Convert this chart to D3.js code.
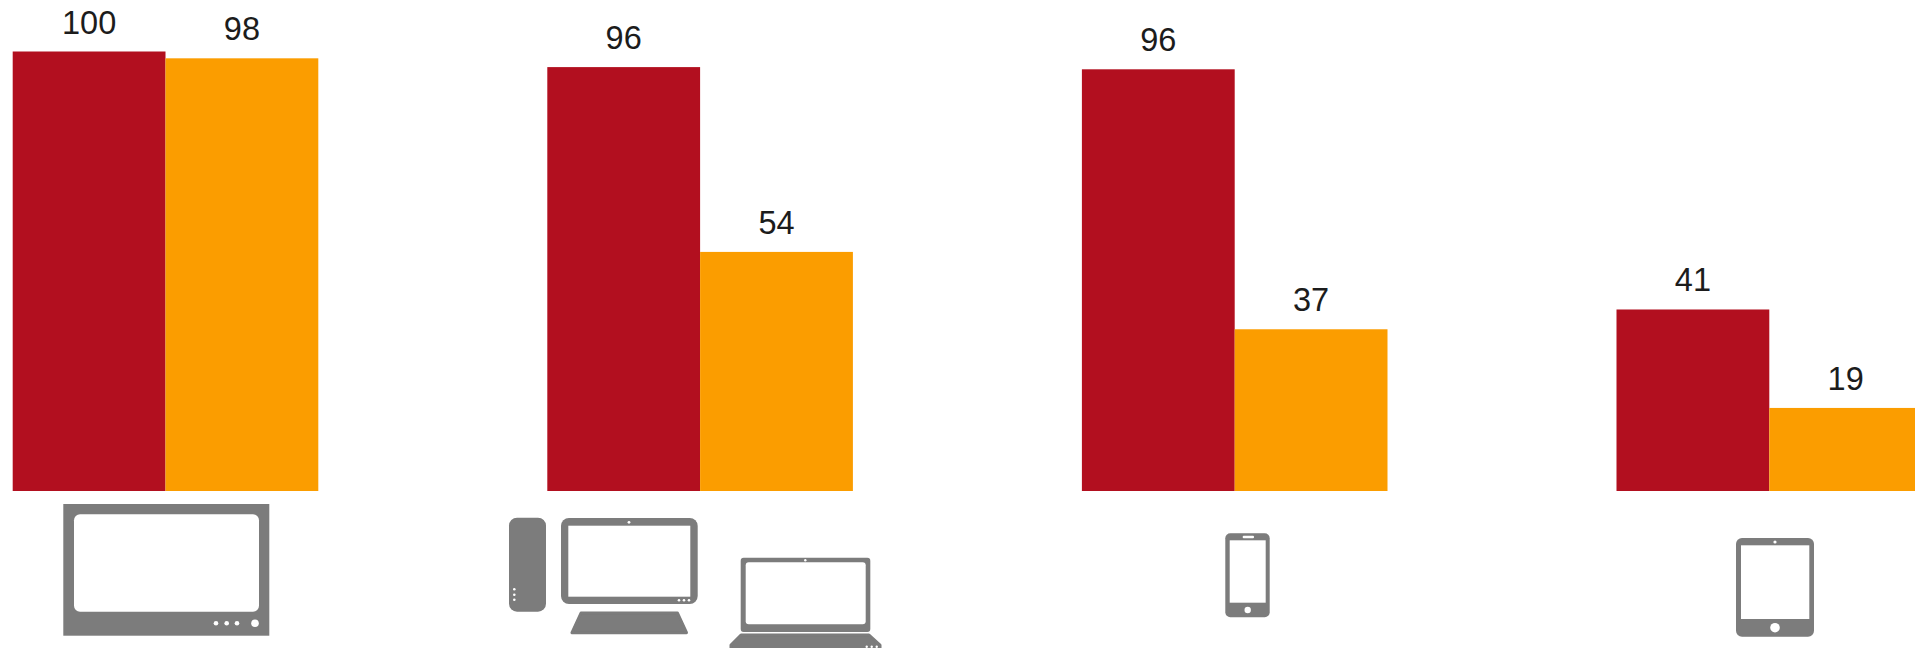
<!DOCTYPE html>
<html><head><meta charset="utf-8">
<script src="https://cdn.jsdelivr.net/npm/d3@7"></script>
<style>html,body{margin:0;padding:0;background:#fff;overflow:hidden}svg{display:block}</style>
</head><body><svg id="c" width="1915" height="648"></svg>
<script>
const categories = ["TV", "Desktop/Laptop", "Smartphone", "Tablet"];
const seriesNames = ["A", "B"];
const seriesA = [100, 96.45, 95.95, 41.3];
const seriesB = [98.45, 54.4, 36.8, 18.9];
const colors = ["#B20F1F", "#FB9D00"];

const svg = d3.select("#c");
const baseY = 491, topY = 51.5, left = 12.7, step = 534.6, groupW = 305.6;

const x0 = d3.scaleBand().domain(categories)
  .range([left, left + 3 * step + groupW]).paddingInner(1 - groupW / step);
const x1 = d3.scaleBand().domain(seriesNames).range([0, x0.bandwidth()]);
const y = d3.scaleLinear().domain([0, 100]).range([baseY, topY]);
const fmt = d3.format(".0f");

const rows = categories.map((c, i) => ({c, vals: [seriesA[i], seriesB[i]]}));
const g = svg.selectAll("g.group").data(rows).join("g").attr("class", "group")
  .attr("transform", d => `translate(${x0(d.c)},0)`);

g.selectAll("rect").data(d => d.vals.map((v, i) => ({v, s: seriesNames[i], i}))).join("rect")
  .attr("x", d => x1(d.s)).attr("width", x1.bandwidth())
  .attr("y", d => y(d.v)).attr("height", d => y(0) - y(d.v))
  .attr("fill", d => colors[d.i]);

g.selectAll("text").data(d => d.vals.map((v, i) => ({v, s: seriesNames[i]}))).join("text")
  .attr("x", d => x1(d.s) + x1.bandwidth() / 2)
  .attr("y", d => y(d.v) - 18)
  .attr("text-anchor", "middle")
  .attr("font-family", "'Liberation Sans', Arial, sans-serif")
  .attr("font-size", 32.5).attr("fill", "#1c1c1c")
  .text(d => fmt(d.v));

// Pictograms under the groups
const defs = svg.append("defs");
defs.append("filter").attr("id", "soft").append("feGaussianBlur").attr("stdDeviation", 0.6);
const icons = svg.append("g").attr("class", "icons").attr("filter", "url(#soft)");
const GREY = "#7B7B7B", WHITE = "#fff";
const box = (x1, y1, x2, y2, r, f) => icons.append("rect").attr("x", x1).attr("y", y1)
  .attr("width", x2 - x1).attr("height", y2 - y1).attr("rx", r).attr("fill", f);
const dot = (cx, cy, r) => icons.append("circle").attr("cx", cx).attr("cy", cy).attr("r", r).attr("fill", WHITE);
const poly = (d) => icons.append("path").attr("d", d).attr("fill", GREY)
  .attr("stroke", GREY).attr("stroke-width", 3).attr("stroke-linejoin", "round");

// TV
box(63.3, 504, 269.3, 635.7, 0, GREY);
box(74, 514.3, 259, 611.7, 6, WHITE);
[216, 226.7, 237].forEach(cx => dot(cx, 623.3, 2.3));
dot(255, 623.3, 3.8);

// Tower
box(509, 517.7, 546, 611.7, 8, GREY);
[589.3, 594.7, 599.7].forEach(cy => dot(514.3, cy, 1.3));
// Monitor
box(561, 518, 697.7, 604, 8, GREY);
box(568.3, 525.7, 690.3, 596.7, 0, WHITE);
dot(629, 522.3, 1.4);
[679, 684, 689].forEach(cx => dot(cx, 600.3, 1.3));
poly("M581,613 L677.5,613 L686.5,632.7 L572,632.7 Z");
// Laptop
box(740.7, 557.7, 870.3, 632, 3, GREY);
box(745.7, 562.3, 865.7, 624.3, 3, WHITE);
dot(805.3, 560.2, 1.2);
poly("M741,635 L869,635 L880,645 L880,652 L731,652 L731,645 Z");
[866.7, 871.7, 876.7].forEach(cx => dot(cx, 646.7, 1.2));

// Phone
box(1225.3, 533.3, 1269.7, 617.3, 5, GREY);
box(1229.7, 540.3, 1265.7, 602.7, 0, WHITE);
box(1242.7, 535.8, 1254, 538.2, 1, WHITE);
dot(1247.7, 610, 3.2);

// Tablet
box(1736, 538, 1814, 636.7, 6, GREY);
box(1741, 545.3, 1809.3, 619, 0, WHITE);
dot(1775, 542, 1.6);
dot(1775, 627.7, 4.8);
</script></body></html>
